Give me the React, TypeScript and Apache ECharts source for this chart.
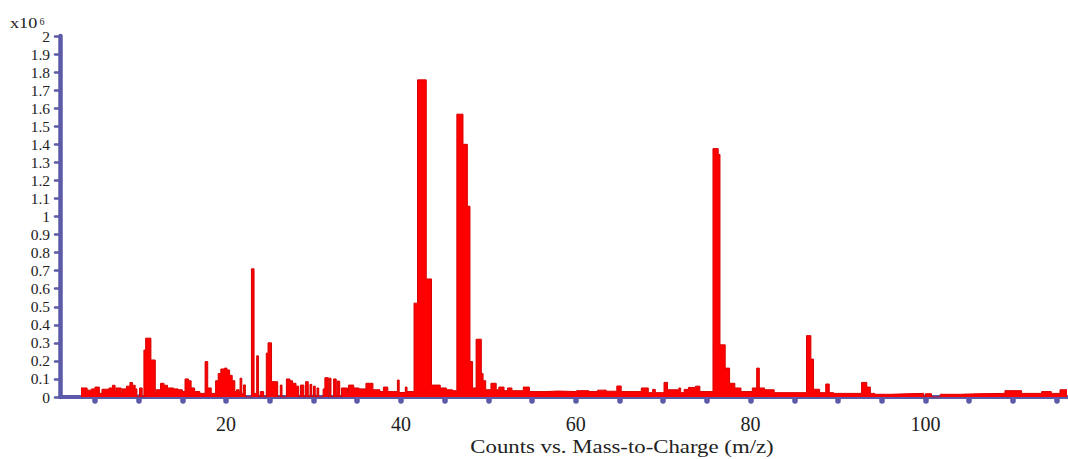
import React, { useEffect, useRef } from "react";
import * as echarts from "echarts";

// m/z where each step of the spectrum starts, and its height (counts, x10^6)
const mzStart = [
  3.4, 4.1, 4.6, 5.0, 5.5, 5.8, 6.6, 7.0, 7.3, 7.4, 8.0, 8.1, 8.6, 9.0, 9.3, 9.6, 9.8,
  10.1, 10.4, 10.6, 10.8, 11.4, 11.9, 12.0, 12.5, 12.9, 13.3, 14.0, 14.5, 15.0, 15.3, 15.7,
  16.0, 16.4, 17.0, 17.6, 17.9, 18.3, 18.8, 19.1, 19.4, 19.8, 20.1, 20.4, 20.7, 21.0, 21.2,
  21.5, 21.6, 21.8, 22.0, 22.2, 22.9, 23.2, 23.5, 23.7, 23.9, 24.3, 24.6, 24.8, 25.2, 25.9,
  26.2, 26.4, 26.9, 27.3, 27.6, 28.0, 28.3, 28.5, 28.9, 29.1, 29.4, 29.6, 29.8, 30.0, 30.2,
  30.4, 30.6, 31.1, 31.3, 31.7, 31.8, 32.0, 32.3, 32.6, 32.7, 33.0, 33.2, 33.9, 34.0, 34.6,
  35.2, 36.0, 36.8, 37.6, 38.0, 38.5, 39.6, 39.8, 40.5, 40.7, 41.5, 41.9, 42.9, 43.5, 44.5,
  45.2, 45.9, 46.4, 47.1, 47.6, 47.9, 48.2, 48.6, 49.2, 49.4, 49.7, 50.3, 50.9, 51.2, 51.8,
  52.2, 52.7, 54.0, 54.7, 56.6, 58.0, 60.1, 61.5, 62.5, 63.5, 64.7, 65.2, 67.5, 68.3, 68.8,
  69.1, 70.1, 70.5, 71.8, 72.0, 72.4, 72.9, 73.7, 74.2, 75.7, 76.3, 76.5, 77.1, 77.6, 78.2,
  78.9, 80.2, 80.7, 81.0, 81.6, 82.7, 86.4, 86.9, 87.2, 87.9, 88.6, 89.0, 89.5, 92.7, 93.3,
  93.7, 94.2, 96.0, 98.0, 99.8, 100.0, 100.7, 101.7, 104.0, 106.0, 109.1, 111.0, 113.3,
  114.4, 115.4, 116.2,
];
const intensity = [
  0.05, 0.038, 0.045, 0.055, 0.02, 0.043, 0.05, 0.065, 0.03, 0.05, 0.02, 0.045, 0.06, 0.08, 0.065, 0.045, 0,
  0.05, 0, 0.26, 0.326, 0.205, 0.02, 0.04, 0.076, 0.065, 0.05, 0.045, 0.04, 0.03, 0.1, 0.09,
  0.05, 0.03, 0.02, 0.196, 0.05, 0.02, 0.09, 0.13, 0.155, 0.16, 0.15, 0.12, 0.09, 0.03, 0.04,
  0.02, 0.104, 0.02, 0.067, 0, 0.71, 0.02, 0.228, 0, 0.03, 0, 0.243, 0.30, 0.085, 0,
  0.066, 0, 0.1, 0.09, 0.076, 0.06, 0, 0.066, 0, 0.085, 0, 0.07, 0, 0.06, 0,
  0.05, 0, 0.045, 0.107, 0, 0.104, 0, 0.1, 0, 0.088, 0, 0.05, 0.02, 0.066, 0.05,
  0.045, 0.076, 0.04, 0.03, 0.055, 0.03, 0.094, 0.025, 0.055, 0.03, 0.52, 1.757, 0.654, 0.066, 0.05,
  0.04, 0.035, 1.567, 1.40, 1.057, 0.196, 0.05, 0.32, 0.13, 0.09, 0.04, 0.076, 0.04, 0.055, 0.035,
  0.05, 0.035, 0.055, 0.03, 0.033, 0.03, 0.035, 0.03, 0.038, 0.032, 0.061, 0.03, 0.05, 0.024, 0.042,
  0.024, 0.081, 0.04, 0.05, 0.024, 0.042, 0.053, 0.06, 0.03, 1.376, 1.344, 0.289, 0.16, 0.076, 0.05,
  0.03, 0.05, 0.16, 0.05, 0.04, 0.024, 0.34, 0.21, 0.043, 0.024, 0.072, 0.024, 0.02, 0.081, 0.055,
  0.02, 0.015, 0.018, 0.02, 0, 0.018, 0, 0.015, 0.018, 0.02, 0.035, 0.02, 0.03,
  0.02, 0.04, 0.04,
];

const xLabelValues = [20, 40, 60, 80, 100];
const xTickValues = [5, 10, 15, 20, 25, 30, 35, 40, 45, 50, 55, 60, 65, 70, 75, 80, 85, 90, 95, 100, 105, 110, 115];
const xMin = 1;
const xMax = 116.2;
const yMin = 0;
const yMax = 2;
const yStep = 0.1;

const AXIS = "#5a5aa8";
const FONT = "Liberation Serif";

export default function App() {
  const ref = useRef<HTMLDivElement>(null);
  useEffect(() => {
    const chart = echarts.init(ref.current!, null, { renderer: "svg" });
    const data = mzStart.map((x, i) => [x, intensity[i]]);
    chart.setOption({
      animation: false,
      backgroundColor: "#ffffff",
      grid: { left: 60, right: 1, top: 36, bottom: 62 },
      xAxis: {
        type: "value",
        min: xMin,
        max: xMax,
        offset: 2,
        axisLine: { show: true, lineStyle: { color: AXIS, width: 4 } },
        axisTick: {
          show: true,
          customValues: xTickValues,
          length: 4,
          lineStyle: { color: AXIS, width: 5.5, cap: "round" },
        },
        axisLabel: {
          customValues: xLabelValues,
          margin: 15,
          fontSize: 20,
          fontFamily: FONT,
          color: "#222",
        },
        splitLine: { show: false },
      },
      yAxis: {
        type: "value",
        min: yMin,
        max: yMax,
        interval: yStep,
        axisLine: { show: true, lineStyle: { color: AXIS, width: 4.5, cap: "round" } },
        axisTick: { show: true, length: 5, lineStyle: { color: AXIS, width: 2.5, cap: "round" } },
        axisLabel: {
          margin: 10,
          fontSize: 15.5,
          fontFamily: FONT,
          color: "#222",
          formatter: (v: number) => String(Number(v.toFixed(1))),
        },
        splitLine: { show: false },
      },
      series: [
        {
          type: "line",
          step: "end",
          data,
          symbol: "none",
          lineStyle: { color: "#d80000", width: 1 },
          areaStyle: { color: "#ff0000", opacity: 1 },
        },
      ],
      graphic: [
        {
          type: "text",
          x: 10,
          y: 17,
          scaleX: 1.3,
          style: { text: "x10", font: `14px "${FONT}"`, fill: "#222", verticalAlign: "top" },
        },
        {
          type: "text",
          x: 39.5,
          y: 16,
          style: { text: "6", font: `10px "${FONT}"`, fill: "#222", verticalAlign: "top" },
        },
        {
          type: "text",
          x: 622,
          y: 447,
          scaleX: 1.2,
          style: {
            text: "Counts vs. Mass-to-Charge (m/z)",
            font: `19px "${FONT}"`,
            fill: "#222",
            align: "center",
            verticalAlign: "middle",
          },
        },
      ],
    });
    return () => chart.dispose();
  }, []);
  return (
    <div
      ref={ref}
      style={{ position: "fixed", left: 0, top: 0, width: 1068, height: 459 }}
    />
  );
}
